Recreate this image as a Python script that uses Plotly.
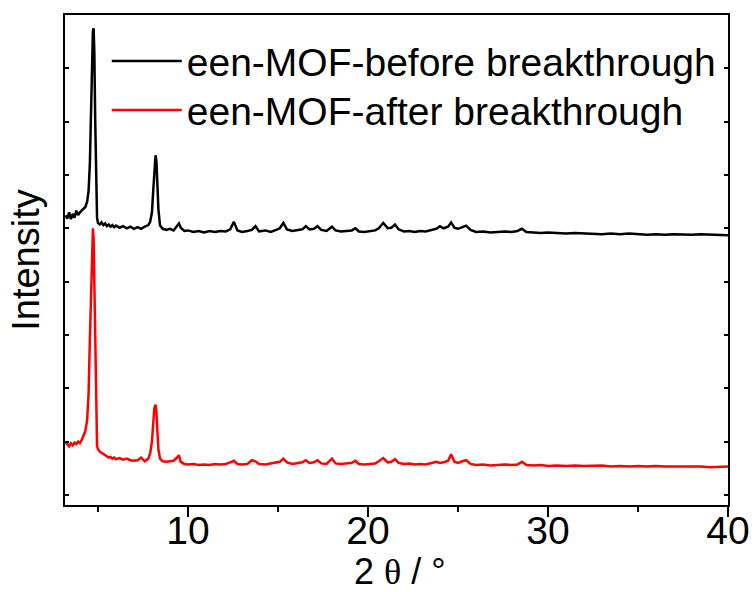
import plotly.graph_objects as go

# 2-theta (degrees)
two_theta = [3.2, 3.3, 3.4, 3.5, 3.6, 3.7, 3.8, 3.9, 4.0, 4.1, 4.2, 4.3, 4.4, 4.48, 4.55,
             4.62, 4.67, 4.72, 4.76, 4.80, 4.85, 4.90, 4.95, 5.0, 5.1, 5.2, 5.3, 5.4, 5.5,
             5.6, 5.7, 5.8, 5.9, 6.0, 6.2, 6.4, 6.6, 6.8, 7.0, 7.2, 7.4, 7.6, 7.8, 7.9, 8.0,
             8.07, 8.13, 8.2, 8.25, 8.3, 8.36, 8.45, 8.6, 8.8, 9.0, 9.2, 9.4, 9.5, 9.6, 9.8,
             10.0, 10.3, 10.6, 10.9, 11.2, 11.5, 11.8, 12.1, 12.35, 12.55, 12.75, 13.0, 13.3,
             13.55, 13.75, 13.95, 14.3, 14.6, 14.9, 15.1, 15.3, 15.5, 15.8, 16.1, 16.35, 16.55,
             16.75, 17.0, 17.2, 17.4, 17.7, 18.0, 18.2, 18.5, 18.8, 19.1, 19.3, 19.5, 19.8,
             20.1, 20.4, 20.6, 20.85, 21.1, 21.3, 21.5, 21.7, 22.0, 22.3, 22.6, 22.9, 23.2,
             23.5, 23.8, 24.0, 24.2, 24.45, 24.62, 24.8, 25.0, 25.25, 25.45, 25.7, 26.0, 26.4,
             26.8, 27.2, 27.6, 28.0, 28.3, 28.55, 28.8, 29.2, 29.6, 30.0, 30.5, 31.0, 31.5,
             32.0, 32.5, 33.0, 33.5, 34.0, 34.5, 35.0, 35.5, 36.0, 36.5, 37.0, 37.5, 38.0,
             38.5, 39.0, 39.5, 40.0]

# intensity (arbitrary units, offset) - before breakthrough
before = [5.24, 5.18, 5.30, 5.17, 5.27, 5.20, 5.33, 5.25, 5.30, 5.33, 5.36, 5.40, 5.50, 5.70, 6.20,
          7.20, 8.20, 8.70, 8.75, 8.30, 7.00, 5.80, 5.20, 5.10, 5.07, 5.11, 5.06, 5.09, 5.04,
          5.07, 5.03, 5.06, 5.02, 5.05, 5.01, 5.04, 5.00, 5.03, 4.99, 5.02, 4.99, 5.03, 5.06, 5.12, 5.30,
          5.70, 6.10, 6.37, 6.25, 5.85, 5.35, 5.05, 4.99, 4.97, 4.99, 4.96, 5.05, 5.09, 5.01, 4.95,
          4.96, 4.93, 4.95, 4.92, 4.95, 4.93, 4.95, 4.94, 4.98, 5.12, 4.96, 4.93, 4.95,
          4.97, 5.04, 4.94, 4.96, 4.93, 4.97, 5.00, 5.10, 4.98, 4.95, 4.97, 4.98, 5.04,
          4.98, 4.99, 5.04, 4.97, 4.95, 5.03, 4.96, 4.94, 4.95, 4.96, 5.00, 4.94, 4.93,
          4.95, 4.96, 5.00, 5.10, 5.00, 5.01, 5.07, 4.98, 4.94, 4.95, 4.93, 4.95, 4.94,
          4.97, 4.99, 5.04, 5.00, 5.03, 5.11, 5.01, 4.99, 5.02, 5.05, 4.97, 4.93, 4.94,
          4.92, 4.93, 4.94, 4.93, 4.95, 4.99, 4.93, 4.92, 4.91, 4.92, 4.91, 4.90, 4.91,
          4.90, 4.90, 4.89, 4.90, 4.89, 4.90, 4.89, 4.88, 4.89, 4.88, 4.89, 4.88, 4.88,
          4.89, 4.88, 4.88, 4.87]

# intensity - after breakthrough
after = [0.99, 0.95, 0.91, 0.97, 0.93, 0.98, 0.95, 1.00, 0.97, 1.03, 1.10, 1.20, 1.40, 1.90, 2.90,
         4.00, 4.70, 5.00, 4.80, 3.80, 2.40, 1.20, 0.92, 0.86, 0.81, 0.79, 0.77, 0.74, 0.72,
         0.70, 0.71, 0.68, 0.70, 0.67, 0.69, 0.66, 0.68, 0.65, 0.64, 0.65, 0.70, 0.63, 0.68, 0.78, 1.00,
         1.40, 1.62, 1.69, 1.55, 1.20, 0.85, 0.68, 0.63, 0.62, 0.63, 0.64, 0.70, 0.74, 0.62, 0.58,
         0.57, 0.58, 0.56, 0.57, 0.56, 0.58, 0.57, 0.58, 0.61, 0.64, 0.58, 0.57, 0.58,
         0.65, 0.63, 0.58, 0.57, 0.59, 0.60, 0.62, 0.68, 0.61, 0.58, 0.60, 0.61, 0.65,
         0.60, 0.61, 0.65, 0.59, 0.58, 0.68, 0.59, 0.58, 0.59, 0.60, 0.64, 0.58, 0.57,
         0.58, 0.59, 0.63, 0.69, 0.61, 0.62, 0.67, 0.60, 0.58, 0.59, 0.57, 0.58, 0.57,
         0.59, 0.62, 0.60, 0.61, 0.64, 0.76, 0.62, 0.60, 0.63, 0.65, 0.58, 0.56, 0.57,
         0.55, 0.56, 0.57, 0.56, 0.57, 0.62, 0.56, 0.55, 0.56, 0.54, 0.55, 0.54, 0.55,
         0.54, 0.54, 0.55, 0.53, 0.54, 0.53, 0.54, 0.53, 0.54, 0.53, 0.53, 0.54, 0.53,
         0.53, 0.52, 0.53, 0.53]

series_names = ["een-MOF-before breakthrough", "een-MOF-after breakthrough"]
series_colors = ["#000000", "#ff0000"]
series_legends = ["legend", "legend2"]
x_tick_vals = [10, 20, 30, 40]
x_range = [3.17, 40]
y_range = [-0.19, 9.0]

FONT = "Liberation Sans, Arial, sans-serif"

fig = go.Figure()
for name, vals, col, lg in zip(series_names, [before, after], series_colors, series_legends):
    fig.add_trace(go.Scatter(x=two_theta, y=vals, mode="lines", name=name, legend=lg,
                             line=dict(color=col, width=2.5)))

legend_common = dict(xanchor="left", yanchor="top", bgcolor="rgba(0,0,0,0)",
                     borderwidth=0, font=dict(size=39, family=FONT), itemwidth=70)

fig.update_layout(
    width=755, height=592,
    margin=dict(l=65, r=27, t=15, b=87),
    paper_bgcolor="white", plot_bgcolor="white",
    font=dict(family=FONT, color="black", size=38),
    showlegend=True,
    legend=dict(x=0.063, y=0.971, **legend_common),
    legend2=dict(x=0.063, y=0.871, **legend_common),
    annotations=[dict(
        text="2 <span style='font-family:Liberation Serif'>θ</span> / °",
        xref="paper", yref="paper", x=0.506, y=-0.135, xanchor="center", yanchor="middle",
        showarrow=False, font=dict(size=36, family=FONT, color="black"))],
)
fig.update_xaxes(
    range=x_range, tickvals=x_tick_vals, ticks="outside", ticklen=10, tickwidth=2,
    tickcolor="black", showline=True, linecolor="black", linewidth=2, mirror=True,
    showgrid=False, zeroline=False, tickfont=dict(size=39, family=FONT),
    automargin=False, ticklabelstandoff=-20,
    minor=dict(dtick=5, tick0=0, ticks="outside", ticklen=5, tickwidth=2, tickcolor="black"),
)
fig.update_yaxes(
    range=y_range, tick0=0, dtick=1, ticks="inside", ticklen=4, tickwidth=1.5,
    tickcolor="black", showticklabels=False, showline=True, linecolor="black",
    linewidth=2, mirror="ticks", showgrid=False, zeroline=False, automargin=False,
    title=dict(text="Intensity", font=dict(size=38, family=FONT), standoff=12),
)

fig.write_html("out.html")
